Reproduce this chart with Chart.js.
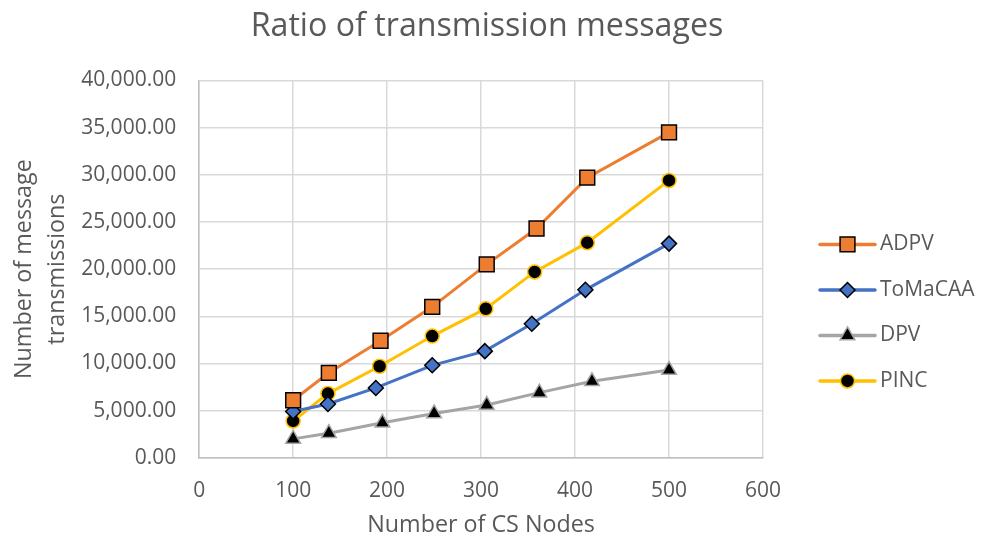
<!DOCTYPE html>
<html>
<head>
<meta charset="utf-8">
<script src="https://cdn.jsdelivr.net/npm/chart.js@4.4.1/dist/chart.umd.min.js"></script>
<style>
  html, body { margin: 0; padding: 0; background: #fff; }
  #wrap { width: 984px; height: 541px; }
</style>
</head>
<body>
<div id="wrap"><canvas id="chart"></canvas></div>
<script>
// values
const seriesNames = ["ADPV", "ToMaCAA", "DPV", "PINC"];
const adpvNodes = [100, 138, 193, 248, 306, 359, 413, 500];
const adpvValues = [6100, 9000, 12400, 16000, 20500, 24300, 29700, 34500];
const tomacaaNodes = [100, 137, 188, 248, 304, 354, 411, 500];
const tomacaaValues = [4900, 5700, 7400, 9800, 11300, 14200, 17800, 22700];
const dpvNodes = [100, 138, 195, 250, 306, 362, 418, 500];
const dpvValues = [2000, 2600, 3700, 4700, 5600, 6900, 8100, 9300];
const pincNodes = [100, 137, 192, 248, 305, 357, 413, 500];
const pincValues = [3900, 6800, 9700, 12900, 15800, 19700, 22800, 29400];
const xTicks = [0, 100, 200, 300, 400, 500, 600];
const yTicks = [0, 5000, 10000, 15000, 20000, 25000, 30000, 35000, 40000];

const textColor = "#595959";
const fontFamily = '"Open Sans", sans-serif';

function toPoints(xs, ys) {
    return xs.map((x, i) => ({ x: x, y: ys[i] }));
}

function series(label, xs, ys, color, style, radius, fill, border) {
    return {
        label: label,
        data: toPoints(xs, ys),
        borderColor: color,
        backgroundColor: color,
        borderWidth: 3,
        showLine: true,
        pointStyle: style,
        pointRadius: radius,
        pointHoverRadius: radius,
        pointBackgroundColor: fill,
        pointBorderColor: border,
        pointBorderWidth: 1.5,
    };
}

// legend with a line segment and the marker in the middle, like Excel
const lineLegend = {
    id: "lineLegend",
    afterDraw(chart) {
        const ctx = chart.ctx;
        const area = chart.chartArea;
        const x0 = area.right + 57;
        chart.data.datasets.forEach((ds, i) => {
            const y = area.top + 164 + i * 45.5;
            ctx.save();
            ctx.strokeStyle = ds.borderColor;
            ctx.lineWidth = 3.5;
            ctx.lineCap = "round";
            ctx.beginPath();
            ctx.moveTo(x0, y);
            ctx.lineTo(x0 + 55, y);
            ctx.stroke();
            ctx.fillStyle = ds.pointBackgroundColor;
            ctx.strokeStyle = ds.pointBorderColor;
            ctx.lineWidth = ds.pointBorderWidth;
            Chart.helpers.drawPoint(ctx, {
                pointStyle: ds.pointStyle,
                radius: ds.pointRadius,
                borderWidth: ds.pointBorderWidth,
            }, x0 + 27.5, y);
            ctx.fillStyle = textColor;
            ctx.font = "21px " + fontFamily;
            ctx.textBaseline = "middle";
            ctx.fillText(ds.label, x0 + 60, y);
            ctx.restore();
        });
    },
};

const ctx = document.getElementById("chart").getContext("2d");
new Chart(ctx, {
    type: "scatter",
    data: {
        datasets: [
            series(seriesNames[0], adpvNodes, adpvValues, "#ED7D31", "rect", 10.5, "#ED7D31", "#000"),
            series(seriesNames[1], tomacaaNodes, tomacaaValues, "#4472C4", "rectRot", 7.5, "#4472C4", "#000"),
            series(seriesNames[2], dpvNodes, dpvValues, "#A5A5A5", "triangle", 8.5, "#000", "#A5A5A5"),
            series(seriesNames[3], pincNodes, pincValues, "#FFC000", "circle", 7, "#000", "#FFC000"),
        ],
    },
    options: {
        responsive: true,
        maintainAspectRatio: false,
        animation: false,
        layout: {
            padding: { left: 7.5, right: 17.5, top: 0, bottom: 0 },
        },
        plugins: {
            legend: { display: false },
            tooltip: { enabled: false },
            title: {
                display: true,
                text: "Ratio of transmission messages",
                color: textColor,
                font: { family: fontFamily, size: 32.2, weight: "normal" },
                padding: { top: 7.4, bottom: 34.4 },
            },
        },
        scales: {
            x: {
                type: "linear",
                min: 0,
                max: 600,
                afterBuildTicks: (axis) => {
                    axis.ticks = xTicks.map((v) => ({ value: v }));
                },
                // invisible tick marks give the gap between axis and labels
                grid: { color: "#D9D9D9", lineWidth: 1.5, tickLength: 19, tickColor: "rgba(0,0,0,0)" },
                border: { color: "#BFBFBF", width: 1.5 },
                ticks: {
                    color: textColor,
                    font: { family: fontFamily, size: 21 },
                    padding: 2,
                    maxRotation: 0,
                },
                title: {
                    display: true,
                    text: "Number of CS Nodes",
                    color: textColor,
                    font: { family: fontFamily, size: 23.3 },
                    padding: { top: 5.6, bottom: 1.5 },
                },
            },
            y: {
                min: 0,
                max: 40000,
                afterBuildTicks: (axis) => {
                    axis.ticks = yTicks.map((v) => ({ value: v }));
                },
                grid: { color: "#D9D9D9", lineWidth: 1.5, tickLength: 21, tickColor: "rgba(0,0,0,0)" },
                border: { color: "#BFBFBF", width: 1.5 },
                ticks: {
                    color: textColor,
                    font: { family: fontFamily, size: 21 },
                    padding: 2,
                    callback: (v) => v.toLocaleString("en-US", { minimumFractionDigits: 2, maximumFractionDigits: 2 }),
                },
                title: {
                    display: true,
                    text: ["Number of message", "transmissions"],
                    color: textColor,
                    font: { family: fontFamily, size: 23.3, lineHeight: 1.42 },
                    padding: { top: 0, bottom: 5.5 },
                },
            },
            // empty right-hand axis that only keeps room for the legend
            legendSpace: {
                type: "linear",
                position: "right",
                grid: { display: false },
                border: { display: false },
                ticks: { display: false },
                afterFit: (axis) => {
                    axis.width = 203.5;
                },
            },
        },
    },
    plugins: [lineLegend],
});
</script>
</body>
</html>
